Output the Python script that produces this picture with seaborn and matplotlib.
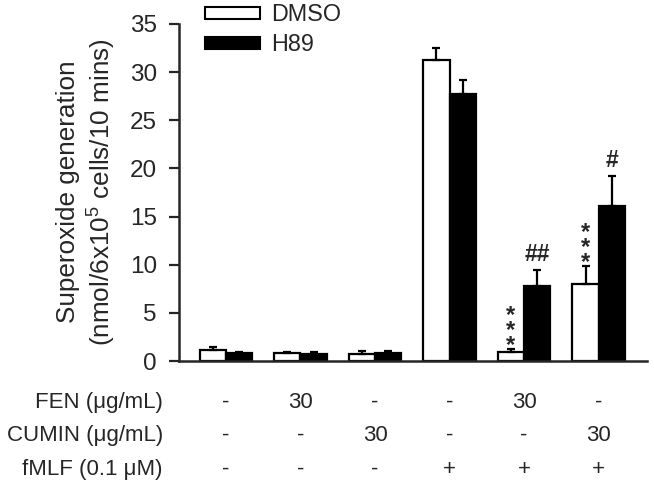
import matplotlib
matplotlib.use('Agg')
import matplotlib.pyplot as plt
import matplotlib.transforms as mtransforms
from matplotlib.patches import Patch
import seaborn as sns
import pandas as pd
import numpy as np

# ---------------- data ----------------
groups = ['G1', 'G2', 'G3', 'G4', 'G5', 'G6']
treatments = ['DMSO', 'H89']
dmso_mean = [1.1, 0.8, 0.7, 31.3, 0.95, 7.95]
dmso_err = [0.35, 0.1, 0.35, 1.2, 0.3, 1.9]
h89_mean = [0.8, 0.75, 0.85, 27.7, 7.8, 16.1]
h89_err = [0.1, 0.15, 0.2, 1.5, 1.65, 3.1]
dmso_marks = ['', '', '', '', '***', '***']
h89_marks = ['', '', '', '', '##', '#']
row_labels = ['FEN (\u03bcg/mL)', 'CUMIN (\u03bcg/mL)', 'fMLF (0.1 \u03bcM)']
fen_row = ['-', '30', '-', '-', '30', '-']
cumin_row = ['-', '-', '30', '-', '-', '30']
fmlf_row = ['-', '-', '-', '+', '+', '+']
y_ticks = [0, 5, 10, 15, 20, 25, 30, 35]

# ---------------- style ----------------
sns.set_style('ticks')
plt.rcParams['font.family'] = ['Liberation Sans', 'DejaVu Sans']
plt.rcParams['mathtext.fontset'] = 'custom'
plt.rcParams['mathtext.rm'] = 'Liberation Sans'
plt.rcParams['mathtext.it'] = 'Liberation Sans:italic'

W, H = 654, 488
fig = plt.figure(figsize=(W / 100, H / 100), dpi=100)
ax = fig.add_axes([179 / W, 1 - 361 / H, (647 - 179) / W, (361 - 24) / H])

df = pd.DataFrame({
    'group': groups * 2,
    'treatment': ['DMSO'] * len(groups) + ['H89'] * len(groups),
    'value': dmso_mean + h89_mean,
})

sns.barplot(data=df, x='group', y='value', hue='treatment', order=groups,
            hue_order=treatments, palette={'DMSO': 'white', 'H89': 'black'},
            edgecolor='black', linewidth=1.6, width=0.7, errorbar=None,
            legend=False, ax=ax)

means = [dmso_mean, h89_mean]
errs = [dmso_err, h89_err]
marks = [dmso_marks, h89_marks]
bar_conts = list(ax.containers)
for ci, cont in enumerate(bar_conts):
    xs = [p.get_x() + p.get_width() / 2 for p in cont.patches]
    ax.errorbar(xs, means[ci], yerr=[np.zeros(len(xs)), errs[ci]], fmt='none',
                ecolor='black', elinewidth=1.6, capsize=2.8, capthick=1.6, zorder=3)
    for x, m, e, mk in zip(xs, means[ci], errs[ci], marks[ci]):
        if not mk:
            continue
        top = m + e
        if mk.startswith('*'):
            ax.annotate('\n'.join(mk), xy=(x, top), xytext=(0, -3),
                        textcoords='offset pixels', ha='center',
                        va='baseline', fontsize=17, fontweight='bold',
                        linespacing=0.56)
        else:
            ax.annotate(mk, xy=(x, top), xytext=(0, 9),
                        textcoords='offset pixels', ha='center',
                        va='baseline', fontsize=16.5, fontweight='bold')

ax.set_ylim(0, 35)
ax.set_xlim(-0.63, 5.65)
ax.set_yticks(y_ticks)
ax.set_xticks([])
ax.set_xlabel('')
ax.set_ylabel('')
ax.tick_params(axis='y', labelsize=17.5, width=1.6, length=7, pad=9, direction='out')
for s in ['top', 'right']:
    ax.spines[s].set_visible(False)
for s in ['left', 'bottom']:
    ax.spines[s].set_linewidth(1.8)

# y label (two lines)
fig.text(68 / W, 1 - 192 / H, 'Superoxide generation', rotation=90,
         ha='center', va='center', fontsize=18.8)
fig.text(102 / W, 1 - 192 / H, '(nmol/6x10$^{5}$ cells/10 mins)', rotation=90,
         ha='center', va='center', fontsize=18.8)

# legend
handles = [Patch(facecolor='white', edgecolor='black', linewidth=1.5),
           Patch(facecolor='black', edgecolor='black', linewidth=1.5)]
ax.legend(handles, treatments, loc='upper left', bbox_to_anchor=(205 / W, 1 - 3 / H),
          bbox_transform=fig.transFigure, frameon=False, fontsize=16.8,
          handlelength=2.35, handleheight=0.42, handletextpad=0.5,
          labelspacing=0.3, borderpad=0, borderaxespad=0)

# treatment table below axis
trans = mtransforms.blended_transform_factory(ax.transData, fig.transFigure)
rows = [fen_row, cumin_row, fmlf_row]
baselines = [408, 441, 475]
for lab, row, b in zip(row_labels, rows, baselines):
    fig.text(163 / W, 1 - b / H, lab, ha='right', va='baseline', fontsize=16)
    for i, v in enumerate(row):
        ax.text(i, 1 - b / H, v, transform=trans, ha='center', va='baseline',
                fontsize=16, clip_on=False)

fig.savefig('out.png', dpi=100)
